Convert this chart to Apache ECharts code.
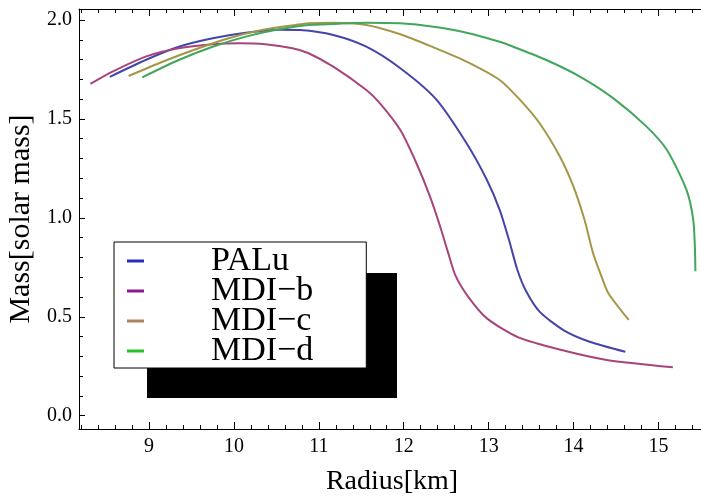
<!DOCTYPE html>
<html>
<head>
<meta charset="utf-8">
<script src="https://cdn.jsdelivr.net/npm/echarts@6/dist/echarts.min.js"></script>
<style>
html,body{margin:0;padding:0;background:#fff;}
#chart{width:701px;height:502px;}
</style>
</head>
<body>
<div id="chart"></div>
<script>
// ---- data (radius in km, mass in solar masses) ----
const seriesNames = ['PALu', 'MDI\u2212b', 'MDI\u2212c', 'MDI\u2212d'];

const paluR = [8.54, 8.96, 9.35, 9.75, 10.14, 10.53, 10.78, 11.17, 11.56, 11.96, 12.38, 12.74, 12.98, 13.13, 13.24, 13.34, 13.44, 13.60, 13.88, 14.19, 14.61];
const paluM = [1.713, 1.798, 1.865, 1.908, 1.936, 1.951, 1.949, 1.924, 1.865, 1.756, 1.600, 1.377, 1.191, 1.040, 0.888, 0.735, 0.630, 0.526, 0.433, 0.374, 0.323];

const mdibR = [8.31, 8.57, 8.96, 9.35, 9.75, 10.06, 10.37, 10.69, 10.88, 11.17, 11.56, 11.72, 11.96, 12.15, 12.31, 12.43, 12.52, 12.61, 12.76, 12.98, 13.35, 13.86, 14.39, 15.17];
const mdibM = [1.677, 1.739, 1.815, 1.857, 1.877, 1.882, 1.877, 1.857, 1.832, 1.764, 1.646, 1.579, 1.444, 1.276, 1.107, 0.955, 0.828, 0.708, 0.601, 0.492, 0.396, 0.332, 0.282, 0.245];

const mdicR = [8.76, 9.16, 9.55, 9.94, 10.33, 10.73, 10.88, 11.17, 11.56, 11.96, 12.35, 12.74, 13.13, 13.37, 13.60, 13.84, 14.00, 14.13, 14.23, 14.33, 14.41, 14.65];
const mdicM = [1.717, 1.789, 1.852, 1.908, 1.949, 1.975, 1.983, 1.986, 1.975, 1.928, 1.862, 1.790, 1.697, 1.596, 1.478, 1.309, 1.157, 0.989, 0.821, 0.703, 0.619, 0.484];

const mdidR = [8.92, 9.35, 9.75, 10.14, 10.53, 10.88, 11.17, 11.56, 11.96, 12.35, 12.74, 13.13, 13.29, 13.68, 14.08, 14.47, 14.86, 15.10, 15.33, 15.41, 15.43, 15.435];
const mdidM = [1.710, 1.798, 1.865, 1.916, 1.953, 1.975, 1.980, 1.986, 1.983, 1.966, 1.936, 1.890, 1.865, 1.798, 1.713, 1.604, 1.461, 1.343, 1.141, 0.989, 0.837, 0.730];

// ---- ticks ----
const xMajor = [9, 10, 11, 12, 13, 14, 15];
const xMinor = [8.2, 8.4, 8.6, 8.8, 9.2, 9.4, 9.6, 9.8, 10.2, 10.4, 10.6, 10.8, 11.2, 11.4, 11.6, 11.8,
                12.2, 12.4, 12.6, 12.8, 13.2, 13.4, 13.6, 13.8, 14.2, 14.4, 14.6, 14.8, 15.2, 15.4];
const yMajor = [0, 0.5, 1.0, 1.5, 2.0];
const yMinor = [0.1, 0.2, 0.3, 0.4, 0.6, 0.7, 0.8, 0.9, 1.1, 1.2, 1.3, 1.4, 1.6, 1.7, 1.8, 1.9];

const lineColors = ['#4444aa', '#a8447c', '#a39746', '#42a65c'];
const legendColors = ['#2c2cc0', '#8a1c8e', '#a8845c', '#28c028'];

const X_MIN = 8.176, X_MAX = 15.548, Y_MIN = -0.0672, Y_MAX = 2.0556;
const FONT = '"Liberation Serif", "Times New Roman", serif';

function pairs(a, b) { return a.map((v, i) => [v, b[i]]); }
const dataSets = [pairs(paluR, paluM), pairs(mdibR, mdibM), pairs(mdicR, mdicM), pairs(mdidR, mdidM)];

function xAx(pos, values, len, showLabel, showLine, extra) {
  return Object.assign({
    type: 'value', min: X_MIN, max: X_MAX, position: pos,
    axisLine: { show: showLine, onZero: false, lineStyle: { color: '#000', width: 1 } },
    axisTick: { show: true, inside: true, length: len, customValues: values, lineStyle: { color: '#000', width: 1 } },
    axisLabel: showLabel ? { show: true, customValues: values, margin: 8, color: '#000', fontFamily: FONT, fontSize: 20 } : { show: false },
    splitLine: { show: false }
  }, extra || {});
}
function yAx(pos, values, len, showLabel, showLine, extra) {
  return Object.assign({
    type: 'value', min: Y_MIN, max: Y_MAX, position: pos,
    axisLine: { show: showLine, onZero: false, lineStyle: { color: '#000', width: 1 } },
    axisTick: { show: true, inside: true, length: len, customValues: values, lineStyle: { color: '#000', width: 1 } },
    axisLabel: showLabel ? { show: true, customValues: values, margin: 7, color: '#000', fontFamily: FONT, fontSize: 20,
                             formatter: v => v.toFixed(1) } : { show: false },
    splitLine: { show: false }
  }, extra || {});
}

const chart = echarts.init(document.getElementById('chart'), null, { renderer: 'canvas' });
chart.setOption({
  backgroundColor: '#fff',
  animation: false,
  grid: { left: 79, top: 9, width: 626, height: 420, containLabel: false, outerBoundsMode: 'none' },
  xAxis: [
    xAx('bottom', xMajor, 7, true, true, {
      name: 'Radius[km]', nameLocation: 'middle', nameGap: 39,
      nameTextStyle: { color: '#000', fontFamily: FONT, fontSize: 28 }
    }),
    xAx('bottom', xMinor, 4, false, false),
    xAx('top', xMajor, 7, false, true),
    xAx('top', xMinor, 4, false, false)
  ],
  yAxis: [
    yAx('left', yMajor, 6, true, true, {
      name: 'Mass[solar mass]', nameLocation: 'middle', nameGap: 29,
      nameTextStyle: { color: '#000', fontFamily: FONT, fontSize: 30 }
    }),
    yAx('left', yMinor, 4, false, false)
  ],
  graphic: [
    { type: 'rect', left: 147, top: 273, z: 3, silent: true,
      shape: { width: 250, height: 125 }, style: { fill: '#000' } }
  ],
  legend: {
    orient: 'vertical', left: 114, top: 242, z: 5,
    padding: [2, 53, 0, 13],
    itemWidth: 17, itemHeight: 3, itemGap: -4, icon: 'rect',
    backgroundColor: '#fff', borderColor: '#000', borderWidth: 1,
    formatter: name => '{g|}{n|' + name + '}',
    textStyle: {
      color: '#000', fontFamily: FONT, fontSize: 34, lineHeight: 30,
      rich: {
        g: { width: 62, lineHeight: 30 },
        n: { width: 100, fontFamily: FONT, fontSize: 34, lineHeight: 30, color: '#000' }
      }
    },
    data: seriesNames.map((n, i) => ({ name: n, itemStyle: { color: legendColors[i] } }))
  },
  series: seriesNames.map((n, i) => ({
    name: n, type: 'line', xAxisIndex: 0, yAxisIndex: 0,
    data: dataSets[i], showSymbol: false, symbol: 'none',
    smooth: 0.25,
    lineStyle: { color: lineColors[i], width: 2 },
    itemStyle: { color: lineColors[i] }
  }))
});
</script>
</body>
</html>
